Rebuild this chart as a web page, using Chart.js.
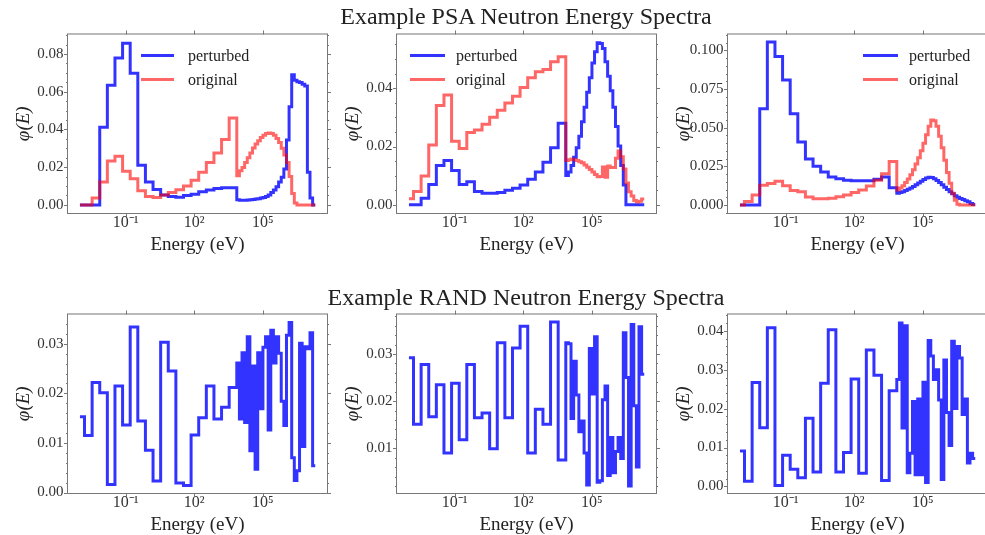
<!DOCTYPE html>
<html>
<head>
<meta charset="utf-8">
<script src="https://cdn.jsdelivr.net/npm/chart.js@4.4.1/dist/chart.umd.min.js"></script>
<style>
  body { margin: 0; width: 985px; height: 535px; overflow: hidden; background: #fff; position: relative; font-family: 'Liberation Serif', serif; }
  canvas { position: absolute; }
  .suptitle { position: absolute; left: 226px; width: 600px; text-align: center; font-size: 24px; line-height: 24px; color: #222; z-index: 2; }
</style>
</head>
<body>
<div class="suptitle" style="top:4px">Example PSA Neutron Energy Spectra</div>
<div class="suptitle" style="top:285px">Example RAND Neutron Energy Spectra</div>
<canvas id="psaA" width="331" height="238"></canvas>
<canvas id="psaB" width="331" height="238"></canvas>
<canvas id="psaC" width="331" height="238"></canvas>
<canvas id="randA" width="331" height="238"></canvas>
<canvas id="randB" width="331" height="238"></canvas>
<canvas id="randC" width="331" height="238"></canvas>
<script>
// group boundaries (eV), shared by every spectrum
const energyEdges = [
  1e-3, 1.585e-3, 3.415e-3, 7.356e-3, 1.585e-2, 3.415e-2, 7.356e-2, 0.1585, 0.3415, 0.7356,
  1.585, 3.415, 7.356, 15.85, 34.15, 73.56, 158.5, 341.5, 735.6, 1585, 3415, 7356,
  9577, 1.246e4, 1.623e4, 2.112e4, 2.749e4, 3.578e4, 4.656e4, 6.061e4, 7.889e4, 1.027e5,
  1.336e5, 1.739e5, 2.264e5, 2.947e5, 3.835e5, 4.992e5, 6.497e5, 8.457e5, 1.101e6, 1.433e6,
  1.865e6, 2.427e6, 3.159e6, 4.112e6, 5.352e6, 6.966e6, 9.070e6, 1.180e7, 1.536e7, 2.0e7
];

// group fluxes, one value per group
const psaPerturbedA = [
  0, 0, 0, 0.0412, 0.0634, 0.0779, 0.0856, 0.0697, 0.0210, 0.0121, 0.0082, 0.0053, 0.0044, 0.0041,
  0.0050, 0.0056, 0.0070, 0.0079, 0.0087, 0.0091, 0.0091,
  0.0027, 0.0024, 0.0024, 0.0024, 0.0026, 0.0027, 0.0029, 0.0031, 0.0032, 0.0036,
  0.0039, 0.0044, 0.0053, 0.0065, 0.0079, 0.0096, 0.0121, 0.0147, 0.0190, 0.0344,
  0.0520, 0.0690, 0.0660, 0.0652, 0.0648, 0.0640, 0.0630, 0.0173, 0.0036, 0
];
const psaOriginalA = [
  0, 0, 0.0036, 0.0121, 0.0232, 0.0258, 0.0178, 0.0138, 0.0075, 0.0044, 0.0039, 0.0052, 0.0065, 0.0080,
  0.0100, 0.0130, 0.0173, 0.0224, 0.0275, 0.0347, 0.0460,
  0.0155, 0.0181, 0.0198, 0.0224, 0.0250, 0.0275, 0.0301, 0.0323, 0.0340, 0.0357,
  0.0369, 0.0378, 0.0381, 0.0378, 0.0369, 0.0352, 0.0330, 0.0300, 0.0265, 0.0225,
  0.0150, 0.0060, 0.0010, 0, 0, 0, 0, 0, 0, 0
];
const psaPerturbedB = [
  0, 0, 0.0023, 0.0070, 0.0135, 0.0152, 0.0118, 0.0070, 0.0079, 0.0046, 0.0040, 0.0040, 0.0042, 0.0050,
  0.0057, 0.0068, 0.0088, 0.0113, 0.0146, 0.0196, 0.0280,
  0.0101, 0.0113, 0.0135, 0.0163, 0.0196, 0.0235, 0.0285, 0.0335, 0.0386, 0.0436,
  0.0486, 0.0525, 0.0556, 0.0553, 0.0536, 0.0491, 0.0441, 0.0391, 0.0335, 0.0269,
  0.0202, 0.0135, 0.0068, 0, 0, 0, 0, 0, 0, 0
];
const psaOriginalB = [
  0.0021, 0.0046, 0.0099, 0.0205, 0.0341, 0.0377, 0.0218, 0.0193, 0.0248, 0.0257, 0.0276, 0.0300, 0.0324, 0.0349,
  0.0372, 0.0402, 0.0436, 0.0456, 0.0464, 0.0491, 0.0508,
  0.0152, 0.0155, 0.0157, 0.0155, 0.0152, 0.0148, 0.0144, 0.0137, 0.0129, 0.0121,
  0.0113, 0.0104, 0.0096, 0.0097, 0.0130, 0.0095, 0.0133, 0.0128, 0.0128, 0.0160,
  0.0185, 0.0165, 0.0123, 0.0075, 0.0045, 0.0030, 0.0015, 0.0010, 0.0012, 0.0020
];
const psaPerturbedC = [
  0, 0, 0, 0.0623, 0.1054, 0.0960, 0.0808, 0.0591, 0.0408, 0.0297, 0.0250, 0.0213, 0.0181, 0.0170,
  0.0160, 0.0156, 0.0156, 0.0156, 0.0166, 0.0181, 0.0112,
  0.0076, 0.0080, 0.0086, 0.0093, 0.0101, 0.0110, 0.0120, 0.0130, 0.0142, 0.0154,
  0.0165, 0.0175, 0.0180, 0.0178, 0.0170, 0.0158, 0.0145, 0.0130, 0.0115, 0.0100,
  0.0085, 0.0072, 0.0060, 0.0050, 0.0042, 0.0035, 0.0028, 0.0020, 0.0010, 0.0003
];
const psaOriginalC = [
  0, 0.0023, 0.0065, 0.0128, 0.0139, 0.0154, 0.0124, 0.0093, 0.0086, 0.0051, 0.0040, 0.0040, 0.0044, 0.0053,
  0.0065, 0.0080, 0.0097, 0.0122, 0.0160, 0.0202, 0.0282,
  0.0097, 0.0110, 0.0125, 0.0145, 0.0168, 0.0195, 0.0228, 0.0265, 0.0305, 0.0350,
  0.0400, 0.0455, 0.0510, 0.0550, 0.0545, 0.0510, 0.0445, 0.0370, 0.0290, 0.0210,
  0.0140, 0.0075, 0.0030, 0.0005, 0, 0, 0, 0, 0, 0
];
const randSpectrumA = [
  0.0153, 0.0115, 0.0222, 0.0201, 0.0016, 0.0215, 0.0136, 0.0334, 0.0144, 0.0085, 0.0023, 0.0303, 0.0245, 0.0019,
  0.0014, 0.0116, 0.0151, 0.0215, 0.0148, 0.0172, 0.0212,
  0.0261, 0.0148, 0.0282, 0.0141, 0.0314, 0.0084, 0.0255, 0.0047, 0.0282, 0.0169,
  0.0293, 0.0314, 0.0126, 0.0327, 0.0261, 0.0314, 0.0281, 0.0184, 0.0135, 0.0317,
  0.0343, 0.0070, 0.0024, 0.0044, 0.0301, 0.0093, 0.0294, 0.0290, 0.0322, 0.0054
];
const randSpectrumB = [
  0.0292, 0.0151, 0.0278, 0.0167, 0.0235, 0.0090, 0.0238, 0.0118, 0.0278, 0.0165, 0.0175, 0.0099, 0.0324, 0.0165,
  0.0313, 0.0359, 0.0090, 0.0183, 0.0151, 0.0368, 0.0075,
  0.0324, 0.0322, 0.0163, 0.0285, 0.0213, 0.0135, 0.0158, 0.0090, 0.0022, 0.0312,
  0.0215, 0.0337, 0.0028, 0.0031, 0.0203, 0.0232, 0.0042, 0.0123, 0.0048, 0.0093,
  0.0123, 0.0078, 0.0345, 0.0250, 0.0020, 0.0363, 0.0190, 0.0060, 0.0358, 0.0257
];
const randSpectrumC = [
  0.0091, 0.0013, 0.0267, 0.0151, 0.0408, 0.0002, 0.0080, 0.0044, 0.0022, 0.0175, 0.0037, 0.0265, 0.0403, 0.0037,
  0.0087, 0.0276, 0.0034, 0.0351, 0.0286, 0.0015, 0.0246,
  0.0275, 0.0420, 0.0150, 0.0413, 0.0035, 0.0085, 0.0218, 0.0030, 0.0225, 0.0030,
  0.0268, 0.0010, 0.0375, 0.0335, 0.0275, 0.0300, 0.0222, 0.0018, 0.0325, 0.0190,
  0.0105, 0.0373, 0.0200, 0.0360, 0.0330, 0.0185, 0.0225, 0.0060, 0.0085, 0.0072
];

const xTickValues = [1e-1, 1e2, 1e5];
const xTickLabels = ['10⁻¹', '10²', '10⁵'];
const yTicksPsaA = [0, 0.02, 0.04, 0.06, 0.08];
const yTicksPsaB = [0, 0.02, 0.04];
const yTicksPsaC = [0, 0.025, 0.05, 0.075, 0.1];
const yTicksRandA = [0, 0.01, 0.02, 0.03];
const yTicksRandB = [0.01, 0.02, 0.03];
const yTicksRandC = [0, 0.01, 0.02, 0.03, 0.04];

const BLUE = 'rgba(0, 0, 255, 0.8)';
const RED = 'rgba(255, 0, 0, 0.6)';
const INK = '#222';
const SPINE = '#777';

// axes box geometry (page px)
const AXIS_W = 60, AXIS_H = 46, PAD_T = 10, PAD_R = 12;
const PLOT_W = 259, PLOT_H = 182;
const X_MIN = 3.05e-4, X_MAX = 6.55e7;

Chart.defaults.font.family = "'Liberation Serif', serif";
Chart.defaults.color = INK;

// step points: each group value is held from its lower edge to the next edge
function stepPoints(values) {
  const pts = values.map((v, i) => ({ x: energyEdges[i], y: v }));
  pts.push({ x: energyEdges[values.length], y: values[values.length - 1] });
  return pts;
}

// spines on all four sides, outward ticks, minor y ticks and the in-axes legend
const framePlugin = {
  id: 'frame',
  afterDraw(chart, args, opts) {
    const { ctx, chartArea: a, scales: { x, y } } = chart;
    ctx.save();
    ctx.strokeStyle = SPINE;
    ctx.lineWidth = 1;
    ctx.strokeRect(a.left - 0.5, a.top - 0.5, a.right - a.left + 1, a.bottom - a.top + 1);
    ctx.beginPath();
    xTickValues.forEach(v => {
      const px = Math.round(x.getPixelForValue(v)) + 0.5;
      ctx.moveTo(px, a.bottom); ctx.lineTo(px, a.bottom + 4);
      ctx.moveTo(px, a.top); ctx.lineTo(px, a.top - 4);
    });
    y.ticks.forEach(t => {
      const py = Math.round(y.getPixelForValue(t.value)) + 0.5;
      ctx.moveTo(a.left - 4, py); ctx.lineTo(a.left, py);
      ctx.moveTo(a.right, py); ctx.lineTo(a.right + 4, py);
    });
    const k0 = Math.ceil(y.min / opts.minor), k1 = Math.floor(y.max / opts.minor);
    for (let k = k0; k <= k1; k++) {
      const py = Math.round(y.getPixelForValue(k * opts.minor)) + 0.5;
      ctx.moveTo(a.left - 2, py); ctx.lineTo(a.left, py);
      ctx.moveTo(a.right, py); ctx.lineTo(a.right + 2, py);
    }
    ctx.stroke();

    if (opts.legend) {
      const lg = opts.legend;
      ctx.font = "16px 'Liberation Serif', serif";
      ctx.textBaseline = 'middle';
      ctx.fillStyle = INK;
      chart.data.datasets.forEach((ds, i) => {
        const ly = a.top + lg.rows[i];
        ctx.beginPath();
        ctx.strokeStyle = ds.borderColor;
        ctx.lineWidth = 3;
        ctx.moveTo(a.left + lg.x0, ly);
        ctx.lineTo(a.left + lg.x1, ly);
        ctx.stroke();
        ctx.fillText(ds.label, a.left + lg.tx, ly + 1);
      });
    }
    ctx.restore();
  }
};

const panels = [
  { id: 'psaA', left: 68, top: 31, yMin: -0.0043, yMax: 0.0903, yTicks: yTicksPsaA, dec: 2, minor: 0.005,
    series: [{ label: 'perturbed', values: psaPerturbedA, color: BLUE }, { label: 'original', values: psaOriginalA, color: RED }],
    legend: { x0: 73, x1: 106, tx: 120, rows: [21, 45] } },
  { id: 'psaB', left: 397, top: 31, yMin: -0.0028, yMax: 0.0584, yTicks: yTicksPsaB, dec: 2, minor: 0.005,
    series: [{ label: 'perturbed', values: psaPerturbedB, color: BLUE }, { label: 'original', values: psaOriginalB, color: RED }],
    legend: { x0: 13, x1: 48, tx: 59, rows: [21, 45] } },
  { id: 'psaC', left: 728, top: 31, yMin: -0.0052, yMax: 0.1103, yTicks: yTicksPsaC, dec: 3, minor: 0.005,
    series: [{ label: 'perturbed', values: psaPerturbedC, color: BLUE }, { label: 'original', values: psaOriginalC, color: RED }],
    legend: { x0: 135, x1: 170, tx: 181, rows: [21, 45] } },
  { id: 'randA', left: 68, top: 311, yMin: -0.0001, yMax: 0.0359, yTicks: yTicksRandA, dec: 2, minor: 0.002,
    series: [{ label: 'spectrum', values: randSpectrumA, color: BLUE }] },
  { id: 'randB', left: 397, top: 311, yMin: 0.0005, yMax: 0.0384, yTicks: yTicksRandB, dec: 2, minor: 0.002,
    series: [{ label: 'spectrum', values: randSpectrumB, color: BLUE }] },
  { id: 'randC', left: 728, top: 311, yMin: -0.0017, yMax: 0.0442, yTicks: yTicksRandC, dec: 2, minor: 0.002,
    series: [{ label: 'spectrum', values: randSpectrumC, color: BLUE }] }
];

panels.forEach(p => {
  const canvas = document.getElementById(p.id);
  canvas.style.left = (p.left - AXIS_W) + 'px';
  canvas.style.top = (p.top - PAD_T) + 'px';
  canvas.width = AXIS_W + PLOT_W + PAD_R;
  canvas.height = PAD_T + PLOT_H + AXIS_H;

  new Chart(canvas, {
    type: 'line',
    data: {
      datasets: p.series.map((s, i) => ({
        label: s.label,
        data: stepPoints(s.values),
        borderColor: s.color,
        borderWidth: 3,
        borderJoinStyle: 'miter',
        pointRadius: 0,
        stepped: 'before',
        fill: false,
        order: p.series.length - i   // original (red) sits on top
      }))
    },
    options: {
      responsive: false,
      animation: false,
      devicePixelRatio: 1,
      layout: { padding: { top: PAD_T, right: PAD_R, left: 0, bottom: 0 } },
      plugins: {
        legend: { display: false },
        tooltip: { enabled: false },
        frame: { minor: p.minor, legend: p.legend }
      },
      scales: {
        x: {
          type: 'logarithmic',
          min: X_MIN,
          max: X_MAX,
          afterBuildTicks: s => { s.ticks = xTickValues.map(v => ({ value: v })); },
          afterFit: s => { s.height = AXIS_H; },
          ticks: {
            autoSkip: false, maxRotation: 0, padding: 0,
            font: { size: 16 }, color: '#333',
            callback: (v, i) => xTickLabels[i]
          },
          grid: { display: false, drawTicks: false },
          border: { display: false },
          title: { display: true, text: 'Energy (eV)', font: { size: 19 }, color: INK, padding: { top: 0, bottom: 2.4 } }
        },
        y: {
          min: p.yMin,
          max: p.yMax,
          afterBuildTicks: s => { s.ticks = p.yTicks.map(v => ({ value: v })); },
          afterFit: s => { s.width = AXIS_W; },
          ticks: {
            padding: 4.5,
            font: { size: 15 }, color: '#333',
            callback: v => v.toFixed(p.dec)
          },
          grid: { display: false, drawTicks: false },
          border: { display: false },
          title: { display: true, text: 'φ(E)', font: { size: 19, style: 'italic' }, color: INK, padding: { top: 5, bottom: 0 } }
        }
      }
    },
    plugins: [framePlugin]
  });
});
</script>
</body>
</html>
